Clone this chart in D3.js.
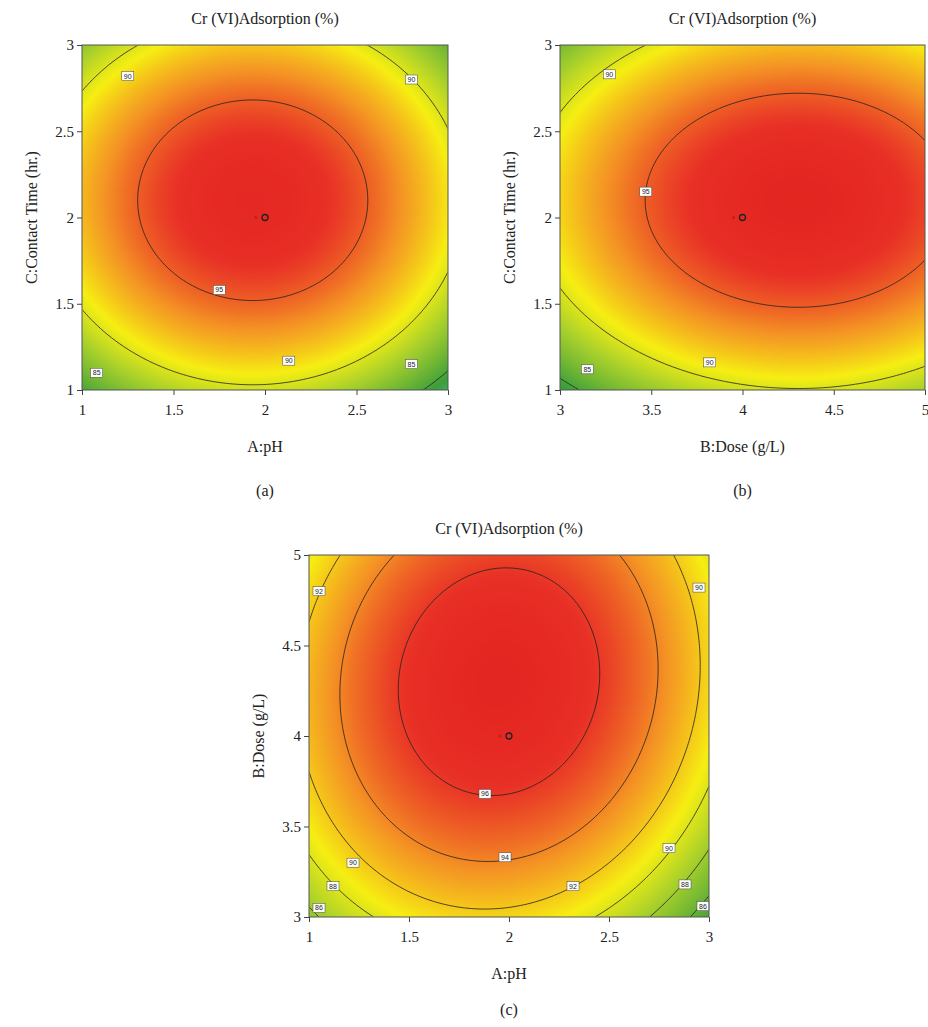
<!DOCTYPE html>
<html><head><meta charset="utf-8">
<script src="https://cdn.jsdelivr.net/npm/d3@7"></script>
<style>body{margin:0;background:#fff}text{font-family:"Liberation Serif",serif;fill:#222}</style>
</head><body>
<svg id="chart" width="928" height="1027"></svg>
<script>
// fitted quadratic model in coded units: pH (x1), dose (x2), time (x3)
var modelMax = 97.4;
var modelCenter = [-0.05, 0.3, 0.1];
var modelQuad = [-5.3, -3.4, -6.2];
var modelCross12 = 0.6;

var pHRange = [1, 3], doseRange = [3, 5], timeRange = [1, 3];
var pHTicks = [1, 1.5, 2, 2.5, 3];
var doseTicks = [3, 3.5, 4, 4.5, 5];
var timeTicks = [1, 1.5, 2, 2.5, 3];

var levelsAB = [85, 90, 95];
var levelsC = [86, 88, 90, 92, 94, 96];

var labelsA = [[1.25,2.82,90],[2.8,2.8,90],[1.75,1.58,95],[2.13,1.17,90],[1.08,1.1,85],[2.8,1.15,85]];
var labelsB = [[3.27,2.83,90],[3.47,2.15,95],[3.82,1.16,90],[3.15,1.12,85]];
var labelsC = [[1.05,4.8,92],[2.95,4.82,90],[1.88,3.68,96],[1.98,3.33,94],[2.32,3.17,92],[1.22,3.3,90],
               [1.12,3.17,88],[1.05,3.05,86],[2.8,3.38,90],[2.88,3.18,88],[2.97,3.06,86]];

function coded(v, r){ return (v - (r[0]+r[1])/2) / ((r[1]-r[0])/2); }
function response(pH, dose, time){
  var x = [coded(pH,pHRange), coded(dose,doseRange), coded(time,timeRange)];
  var y = modelMax;
  for (var k=0;k<3;k++) y += modelQuad[k]*Math.pow(x[k]-modelCenter[k],2);
  y += modelCross12*(x[0]-modelCenter[0])*(x[1]-modelCenter[1]);
  return y;
}

var color = d3.scaleLinear()
  .domain([81, 84.5, 88.3, 90.8, 93.6, 96.2, 98])
  .range(["#5cc8c0","#3c9e3a","#a6cf2c","#f6ee12","#f49424","#e83026","#e2201f"])
  .clamp(true);

var svg = d3.select("#chart");

function panel(o){
  var g = svg.append("g");
  var x = d3.scaleLinear().domain(o.xr).range([o.x0, o.x1]);
  var y = d3.scaleLinear().domain(o.yr).range([o.y1, o.y0]);
  var w = o.x1-o.x0, h = o.y1-o.y0;

  // heat map raster
  var cw = Math.round(w), ch = Math.round(h);
  var canvas = document.createElement("canvas");
  canvas.width = cw; canvas.height = ch;
  var ctx = canvas.getContext("2d");
  var img = ctx.createImageData(cw, ch);
  for (var j=0;j<ch;j++) for (var i=0;i<cw;i++){
    var c = d3.rgb(color(o.f(x.invert(o.x0+i+0.5), y.invert(o.y0+j+0.5))));
    var p = (j*cw+i)*4;
    img.data[p]=c.r; img.data[p+1]=c.g; img.data[p+2]=c.b; img.data[p+3]=255;
  }
  ctx.putImageData(img,0,0);
  g.append("image").attr("x",o.x0).attr("y",o.y0).attr("width",w).attr("height",h)
    .attr("preserveAspectRatio","none").attr("href",canvas.toDataURL());

  // contours
  var n = 120, vals = new Array(n*n);
  for (var j2=0;j2<n;j2++) for (var i2=0;i2<n;i2++){
    var xv = o.xr[0]+(o.xr[1]-o.xr[0])*i2/(n-1);
    var yv = o.yr[1]-(o.yr[1]-o.yr[0])*j2/(n-1);
    vals[j2*n+i2] = o.f(xv, yv);
  }
  var proj = d3.geoTransform({point:function(px,py){
    this.stream.point(o.x0+(px-0.5)/(n-1)*w, o.y0+(py-0.5)/(n-1)*h);
  }});
  var clipId = "clip"+o.name;
  svg.append("clipPath").attr("id",clipId).append("rect")
    .attr("x",o.x0+0.5).attr("y",o.y0+0.5).attr("width",w-1).attr("height",h-1);
  g.append("g").attr("clip-path","url(#"+clipId+")").selectAll("path")
    .data(d3.contours().size([n,n]).thresholds(o.levels)(vals))
    .enter().append("path").attr("d",d3.geoPath(proj))
    .attr("fill","none").attr("stroke","#222").attr("stroke-width",0.8);

  // contour labels
  o.labels.forEach(function(l){
    var lx = x(l[0]), ly = y(l[1]);
    g.append("rect").attr("x",lx-6).attr("y",ly-4.5).attr("width",12).attr("height",9)
      .attr("fill","#fff").attr("stroke","#444").attr("stroke-width",0.5);
    g.append("text").attr("x",lx).attr("y",ly+2.5).attr("text-anchor","middle")
      .style("font-family","Liberation Sans, sans-serif").style("font-size","7px").text(l[2]);
  });

  // design center markers
  g.append("circle").attr("cx",x(o.cx)-9).attr("cy",y(o.cy)).attr("r",1.6).attr("fill","#c02020");
  g.append("circle").attr("cx",x(o.cx)).attr("cy",y(o.cy)).attr("r",3).attr("fill","none").attr("stroke","#222").attr("stroke-width",1.3);

  g.append("rect").attr("x",o.x0).attr("y",o.y0).attr("width",w).attr("height",h)
    .attr("fill","none").attr("stroke","#555").attr("stroke-width",1);

  var ax = g.append("g").attr("transform","translate(0,"+o.y1+")")
    .call(d3.axisBottom(x).tickValues(o.xt).tickFormat(d3.format("")).tickSize(5).tickSizeOuter(0));
  var ay = g.append("g").attr("transform","translate("+o.x0+",0)")
    .call(d3.axisLeft(y).tickValues(o.yt).tickFormat(d3.format("")).tickSize(5).tickSizeOuter(0));
  [ax,ay].forEach(function(a){
    a.select(".domain").remove();
    a.selectAll("line").attr("stroke","#444");
    a.selectAll("text").style("font-size","15px").style("font-family","Liberation Serif, serif").attr("fill","#222");
  });
  ax.selectAll("text").attr("dy","1.1em");

  g.append("text").attr("x",(o.x0+o.x1)/2).attr("y",o.y0-21).attr("text-anchor","middle")
    .style("font-size","16px").text("Cr (VI)Adsorption (%)");
  g.append("text").attr("x",(o.x0+o.x1)/2).attr("y",o.y1+62).attr("text-anchor","middle")
    .style("font-size","16px").text(o.xl);
  g.append("text").attr("transform","translate("+(o.x0-45)+","+((o.y0+o.y1)/2)+") rotate(-90)")
    .attr("text-anchor","middle").style("font-size","16px").text(o.yl);
  g.append("text").attr("x",(o.x0+o.x1)/2).attr("y",o.tagY).attr("text-anchor","middle")
    .style("font-size","16px").text(o.tag);
}

panel({name:"a", x0:82, x1:448, y0:45, y1:390, xr:pHRange, yr:timeRange, xt:pHTicks, yt:timeTicks,
  f:function(a,b){return response(a,4,b);}, levels:levelsAB, labels:labelsA, cx:2, cy:2,
  xl:"A:pH", yl:"C:Contact Time (hr.)", tag:"(a)", tagY:496});
panel({name:"b", x0:560, x1:925, y0:45, y1:390, xr:doseRange, yr:timeRange, xt:doseTicks, yt:timeTicks,
  f:function(a,b){return response(2,a,b);}, levels:levelsAB, labels:labelsB, cx:4, cy:2,
  xl:"B:Dose (g/L)", yl:"C:Contact Time (hr.)", tag:"(b)", tagY:496});
panel({name:"c", x0:309, x1:709, y0:555, y1:917, xr:pHRange, yr:doseRange, xt:pHTicks, yt:doseTicks,
  f:function(a,b){return response(a,b,2);}, levels:levelsC, labels:labelsC, cx:2, cy:4,
  xl:"A:pH", yl:"B:Dose (g/L)", tag:"(c)", tagY:1015});
</script>
</body></html>
